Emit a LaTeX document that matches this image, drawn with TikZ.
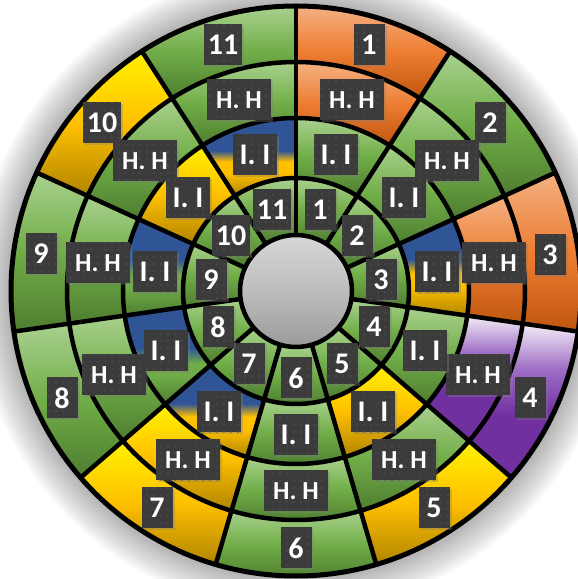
\documentclass[tikz,border=0pt]{standalone}
\usepackage{fontspec}
\newfontfamily\labfont{Carlito}
\usetikzlibrary{shadows,patterns.meta}
\definecolor{g1}{HTML}{A9D18E}
\definecolor{g2}{HTML}{70AD47}
\definecolor{g3}{HTML}{4E7D30}
\definecolor{o1}{HTML}{F4B183}
\definecolor{o2}{HTML}{ED7D31}
\definecolor{o3}{HTML}{C0560F}
\definecolor{y1}{HTML}{FFF200}
\definecolor{y2}{HTML}{FFC000}
\definecolor{y3}{HTML}{B08400}
\definecolor{p1}{HTML}{F3EEF8}
\definecolor{p2}{HTML}{9E6CC4}
\definecolor{p3}{HTML}{7030A0}
\definecolor{b1}{HTML}{2F5597}
\definecolor{k1}{HTML}{D6D6D6}
\definecolor{k2}{HTML}{BDBDBD}
\definecolor{k3}{HTML}{9A9A9A}
\definecolor{labbg}{HTML}{3B3B3B}
\definecolor{labdot}{HTML}{525252}
\pgfdeclareverticalshading{gsh}{100bp}{color(0bp)=(g3); color(25bp)=(g3); color(50bp)=(g2); color(75bp)=(g1); color(100bp)=(g1)}
\pgfdeclareverticalshading{osh}{100bp}{color(0bp)=(o3); color(25bp)=(o3); color(50bp)=(o2); color(75bp)=(o1); color(100bp)=(o1)}
\pgfdeclareverticalshading{ysh}{100bp}{color(0bp)=(y3); color(25bp)=(y3); color(50bp)=(y2); color(75bp)=(y1); color(100bp)=(y1)}
\pgfdeclareverticalshading{psh}{100bp}{color(0bp)=(p3); color(25bp)=(p3); color(45bp)=(p3); color(60bp)=(p2); color(75bp)=(p1); color(100bp)=(p1)}
\pgfdeclareverticalshading{bysh}{100bp}{color(0bp)=(y3); color(25bp)=(y3); color(40bp)=(y2); color(47bp)=(y2); color(54bp)=(b1); color(75bp)=(b1); color(100bp)=(b1)}
\pgfdeclareverticalshading{bgsh}{100bp}{color(0bp)=(g3); color(25bp)=(g3); color(40bp)=(g2); color(46bp)=(g2); color(54bp)=(b1); color(75bp)=(b1); color(100bp)=(b1)}
\pgfdeclareverticalshading{ksh}{100bp}{color(0bp)=(k3); color(25bp)=(k3); color(50bp)=(k2); color(75bp)=(k1); color(100bp)=(k1)}
\tikzset{
  ringline/.style={line width=4.5pt, black},
  lab/.style={fill=labbg, text=white, font=\labfont\bfseries\fontsize{30}{30}\selectfont,
    minimum height=41pt, inner xsep=4pt, inner ysep=0pt,
    drop shadow={shadow xshift=2pt, shadow yshift=-2pt, opacity=0.35},
    postaction={pattern={Dots[radius=0.8pt,distance=7pt]}, pattern color=labdot}},
  numbox/.style={lab, minimum width=31pt},
  iibox/.style={lab, minimum width=44pt},
  hhbox/.style={lab, minimum width=64pt, font=\labfont\bfseries\fontsize{26}{26}\selectfont},
}
\newcommand\mycell[4]{%
  \pgfmathsetmacro\secA{90-(#1-1)*360/11}%
  \pgfmathsetmacro\secB{90-#1*360/11}%
  \path[shading=#4] (\secA:#2pt) arc[start angle=\secA, end angle=\secB, radius=#2pt]
    -- (\secB:#3pt) arc[start angle=\secB, end angle=\secA, radius=#3pt] -- cycle;}
\begin{document}
\begin{tikzpicture}[x=1pt,y=1pt]
\useasboundingbox (0,0) rectangle (578,579);
\coordinate (O) at (296,288);
% soft glow
\foreach \i in {1,...,18}
  \fill[black, opacity=0.018] (O) circle[radius={285pt+\i*2pt}];
\begin{scope}[shift={(296,288)}]
\foreach \s/\ra/\rb/\rc/\rd in {1/gsh/gsh/osh/osh, 2/gsh/gsh/gsh/gsh, 3/gsh/bysh/osh/osh,
  4/gsh/gsh/psh/psh, 5/gsh/ysh/gsh/ysh, 6/gsh/gsh/gsh/gsh, 7/gsh/bysh/ysh/ysh,
  8/gsh/bgsh/gsh/gsh, 9/gsh/bgsh/gsh/gsh, 10/gsh/ysh/gsh/ysh, 11/gsh/bysh/gsh/gsh}{
  \mycell{\s}{56}{113}{\ra}
  \mycell{\s}{113}{173}{\rb}
  \mycell{\s}{173}{229}{\rc}
  \mycell{\s}{229}{285}{\rd}
}
\foreach \k in {0,...,10}
  \draw[ringline] ({90-\k*360/11}:56pt) -- ({90-\k*360/11}:285pt);
\foreach \r in {113,173,229}
  \draw[ringline] (0,0) circle[radius={\r*1pt}];
\draw[line width=5pt] (0,0) circle[radius=285pt];
\draw[ringline, shading=ksh] (0,0) circle[radius=56pt];
\end{scope}
% outer numbers
\node[numbox] (d1) at (369,534) {1};
\node[numbox] (d2) at (490,456) {2};
\node[numbox] (d3) at (550,324) {3};
\node[numbox] (d4) at (530,181) {4};
\node[numbox] (d5) at (434,71) {5};
\node[numbox] (d6) at (296,31) {6};
\node[numbox] (d7) at (157,71) {7};
\node[numbox] (d8) at (62,181) {8};
\node[numbox] (d9) at (41,325) {9};
\node[numbox] (d10) at (102,456) {10};
\node[numbox] (d11) at (223,534) {11};
% H. H
\node[hhbox] (c1) at (352,479) {H. H};
\node[hhbox] (c2) at (447,418) {H. H};
\node[hhbox] (c3) at (494,316) {H. H};
\node[hhbox] (c4) at (478,204) {H. H};
\node[hhbox] (c5) at (404,119) {H. H};
\node[hhbox] (c6) at (296,88) {H. H};
\node[hhbox] (c7) at (188,119) {H. H};
\node[hhbox] (c8) at (114,204) {H. H};
\node[hhbox] (c9) at (98,316) {H. H};
\node[hhbox] (c10) at (145,418) {H. H};
\node[hhbox] (c11) at (239,479) {H. H};
% I. I
\node[iibox] (b1) at (336,424) {I. I};
\node[iibox] (b2) at (404,381) {I. I};
\node[iibox] (b3) at (437,307) {I. I};
\node[iibox] (b4) at (425,228) {I. I};
\node[iibox] (b5) at (373,167) {I. I};
\node[iibox] (b6) at (296,144) {I. I};
\node[iibox] (b7) at (219,167) {I. I};
\node[iibox] (b8) at (166,228) {I. I};
\node[iibox] (b9) at (155,307) {I. I};
\node[iibox] (b10) at (188,381) {I. I};
\node[iibox] (b11) at (255,424) {I. I};
% inner numbers
\node[numbox] (a1) at (320,369) {1};
\node[numbox] (a2) at (357,343) {2};
\node[numbox] (a3) at (381,299) {3};
\node[numbox] (a4) at (374,252) {4};
\node[numbox] (a5) at (342,215) {5};
\node[numbox] (a6) at (296,201) {6};
\node[numbox] (a7) at (249,215) {7};
\node[numbox] (a8) at (218,252) {8};
\node[numbox] (a9) at (211,299) {9};
\node[numbox] (a10) at (231,343) {10};
\node[numbox] (a11) at (272,369) {11};
\end{tikzpicture}
\end{document}
